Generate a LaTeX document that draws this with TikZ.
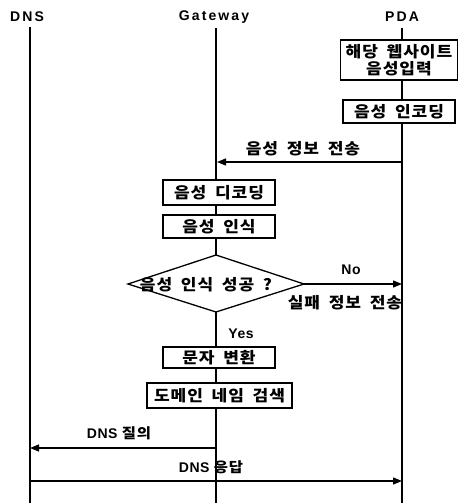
\documentclass[tikz,border=0pt]{standalone}
\usepackage{fontspec}
\setmainfont{Liberation Sans}
\newfontfamily\kr{Noto Sans CJK KR}[WordSpace=1.8,LetterSpace=6,FakeStretch=1.1]
\newfontfamily\hdr{Liberation Sans}[LetterSpace=15]
\newfontfamily\lat{Liberation Sans}[LetterSpace=4]
\usetikzlibrary{arrows.meta}
\begin{document}
\begin{tikzpicture}[x=1pt,y=-1pt,
  lifeline/.style={line width=1.3pt},
  msg/.style={line width=1.3pt,-{Triangle[length=9pt,width=7pt]}},
  stepbox/.style={draw,line width=1.6pt,fill=white,inner sep=0pt,font=\kr\bfseries\fontsize{15.5}{17}\selectfont,align=center},
  hdrlabel/.style={font=\hdr\bfseries\fontsize{14}{16}\selectfont,inner sep=0pt},
  lbl/.style={font=\kr\bfseries\fontsize{15.5}{17}\selectfont,inner sep=0pt},
  latlbl/.style={font=\lat\bfseries\fontsize{14}{16}\selectfont,inner sep=0pt}]
\useasboundingbox (0,0) rectangle (459,503);
% headers
\node[hdrlabel] (hdns) at (27,17) {DNS};
\node[hdrlabel] (hgw) at (214,17) {Gateway};
\node[hdrlabel] (hpda) at (402,17) {PDA};
% lifeline ends
\coordinate (dnsT) at (30,27);
\coordinate (dnsB) at (30,503);
\coordinate (gwT) at (216,28);
\coordinate (gwB) at (216,503);
\coordinate (pdaT) at (402,28);
\coordinate (pdaB) at (402,503);
\draw[lifeline] (dnsT) -- (dnsB);
\draw[lifeline] (gwT) -- (gwB);
\draw[lifeline] (pdaT) -- (pdaB);
% PDA boxes
\node[stepbox,minimum width=117pt,minimum height=40pt,font=\kr\bfseries\fontsize{15.5}{17}\selectfont] (b1) at (399,60) {해당 웹사이트\\음성입력};
\node[stepbox,minimum width=112pt,minimum height=23pt] (b2) at (399,111.5) {음성 인코딩};
% message 1
\coordinate (m1s) at (402,162);
\coordinate (m1e) at (217,162);
\draw[msg] (m1s) -- (m1e);
\node[lbl] (l1) at (303,149) {음성 정보 전송};
% gateway boxes
\node[stepbox,minimum width=112pt,minimum height=25pt] (b3) at (219,192.5) {음성 디코딩};
\node[stepbox,minimum width=112pt,minimum height=23pt] (b4) at (219,226.5) {음성 인식};
% diamond
\coordinate (dT) at (216,255);
\coordinate (dR) at (304,284);
\coordinate (dB) at (216,312);
\coordinate (dL) at (128,284);
\filldraw[fill=white,line width=1.3pt] (dT) -- (dR) -- (dB) -- (dL) -- cycle;
\node[lbl] (dtext) at (206,285) {음성 인식 성공 ?};
% No branch
\coordinate (noe) at (402,284);
\draw[msg] (dR) -- (noe);
\node[latlbl] (lno) at (351,270) {No};
\node[lbl] (lfail) at (345,303) {실패 정보 전송};
\node[latlbl] (lyes) at (241,334) {Yes};
% more boxes
\node[stepbox,minimum width=112pt,minimum height=21pt] (b5) at (219,357.5) {문자 변환};
\node[stepbox,minimum width=145pt,minimum height=25pt] (b6) at (219.5,395.5) {도메인 네임 검색};
% DNS query
\coordinate (q1s) at (216,448);
\coordinate (q1e) at (30,448);
\draw[msg] (q1s) -- (q1e);
\node[latlbl] (lq) at (119,433) {DNS {\kr 질의}};
% DNS reply
\coordinate (r1s) at (30,481);
\coordinate (r1e) at (402,481);
\draw[msg] (r1s) -- (r1e);
\node[latlbl] (lr) at (211,467) {DNS {\kr 응답}};
\end{tikzpicture}
\end{document}
